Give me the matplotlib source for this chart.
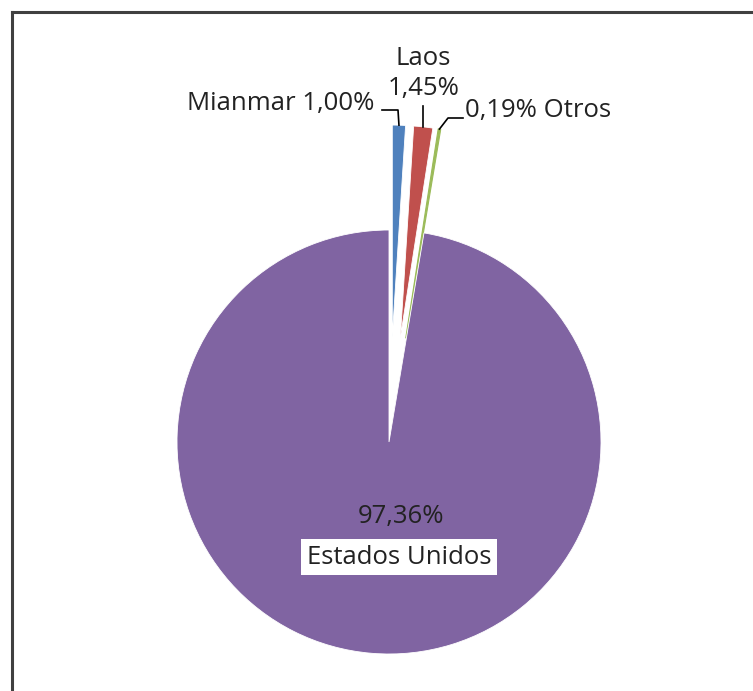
import numpy as np
import matplotlib
matplotlib.use("Agg")
import matplotlib.pyplot as plt

# data
paises = ["Mianmar", "Laos", "Otros", "Estados Unidos"]
valores = [1.00, 1.45, 0.19, 97.36]
etiquetas = ["1,00%", "1,45%", "0,19%", "97,36%"]
colores = ["#4F81BD", "#C0504D", "#9BBB59", "#8064A2"]

W, H = 753, 691
plt.rcParams['font.family'] = ['Open Sans', 'DejaVu Sans']
FS = 18.5

fig = plt.figure(figsize=(W / 100, H / 100), dpi=100)
ax = fig.add_axes([0, 0, 1, 1])

cx, cy, r = 389, H - 442, 212
sep = 105  # el desplazamiento va en unidades de datos
wedges, _ = ax.pie(valores, colors=colores, startangle=90, counterclock=False,
                   explode=[sep, sep, sep, 0], radius=r, center=(cx, cy),
                   wedgeprops=dict(edgecolor="white", linewidth=0.6))
wedges[2].set_edgecolor(colores[2])
wedges[2].set_linewidth(0.8)
ax.set_xlim(0, W)
ax.set_ylim(0, H)
ax.axis("off")


def borde(w):
    """punto exterior en el angulo medio de una cuña"""
    ang = np.deg2rad((w.theta1 + w.theta2) / 2)
    x0, y0 = w.center
    return x0 + w.r * np.cos(ang), y0 + w.r * np.sin(ang)


def py(y):
    return H - y


lk = dict(color="black", lw=1.2)

# Mianmar
bx, by = borde(wedges[0])
ax.plot([382, 398, bx], [py(110), py(110), by], **lk)
ax.text(374, py(103), paises[0] + " " + etiquetas[0], ha="right", va="center",
        fontsize=FS, color="#222222")

# Laos
bx, by = borde(wedges[1])
ax.plot([bx, bx], [by, py(106)], **lk)
ax.text(bx, py(58), paises[1], ha="center", va="center", fontsize=FS, color="#222222")
ax.text(bx, py(88), etiquetas[1], ha="center", va="center", fontsize=FS, color="#222222")

# Otros
bx, by = borde(wedges[2])
ax.plot([bx, 448, 463], [by, py(118), py(118)], **lk)
ax.text(465, py(110), etiquetas[2] + " " + paises[2], ha="left", va="center",
        fontsize=FS, color="#222222")

# Estados Unidos
ax.text(401, py(517), etiquetas[3], ha="center", va="center", fontsize=FS, color="#222222")
ax.text(399, py(557), paises[3], ha="center", va="center", fontsize=FS, color="#222222",
        bbox=dict(facecolor="white", edgecolor="none", pad=4))

# marco del grafico
ax.plot([12, W + 5], [py(12), py(12)], color="#404040", lw=2.2, clip_on=False)
ax.plot([12, 12], [py(12), -5], color="#404040", lw=2.2, clip_on=False)

fig.savefig("out.png", dpi=100)
